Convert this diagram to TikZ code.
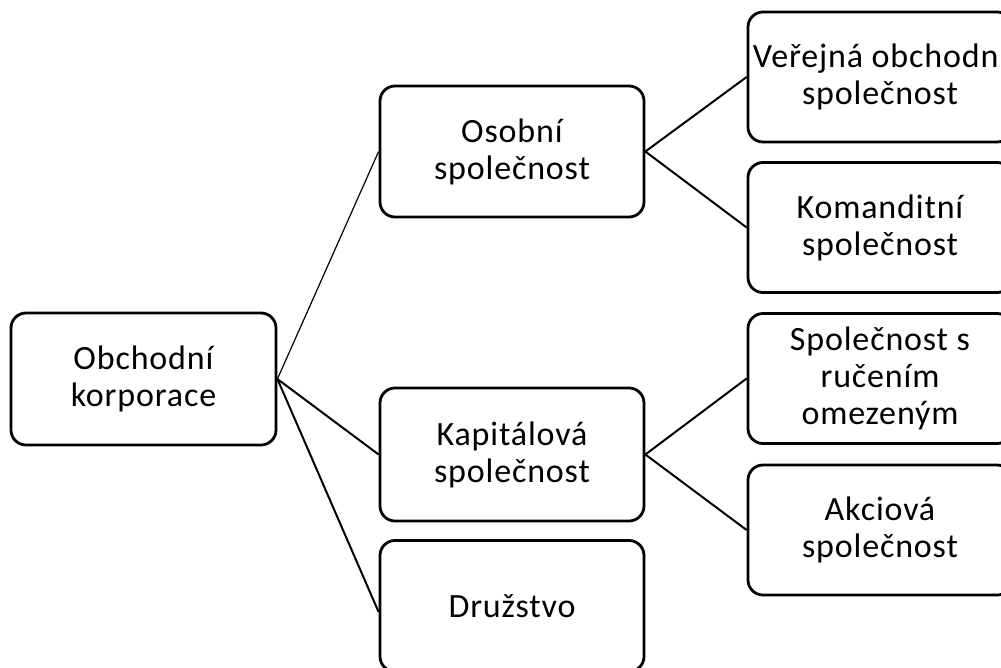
\documentclass[tikz,border=0pt]{standalone}
\usepackage{fontspec}
\setmainfont{Carlito}[LetterSpace=2.5]
\begin{document}
\begin{tikzpicture}[x=1pt,y=-1pt,
  box/.style={draw=black, line width=2.8pt, rounded corners=15pt, fill=white,
    minimum width=264pt, minimum height=131pt, inner sep=0pt, align=center,
    font=\fontsize{34}{37}\selectfont},
  link/.style={draw=black, line width=2pt},
  thinlink/.style={draw=black, line width=1.2pt}]
\clip (0,0) rectangle (1001,667);
\fill[white] (0,0) rectangle (1001,667);

\node[box, minimum width=265pt, minimum height=132pt] (ok) at (143.5,379) {Obchodní\\korporace};
\node[box] (os) at (512,151.5) {Osobní\\společnost};
\node[box, minimum height=133pt] (ka) at (512,454.5) {Kapitálová\\společnost};
\node[box] (dr) at (512,606) {Družstvo};
\node[box, minimum height=130pt] (ve) at (880,77) {Veřejná obchodní\\společnost};
\node[box, minimum height=130pt] (ko) at (880,227.5) {Komanditní\\společnost};
\node[box, minimum height=130pt] (sr) at (880,378.5) {Společnost s\\ručením\\omezeným};
\node[box, minimum height=130pt] (ak) at (880,530) {Akciová\\společnost};

\draw[thinlink] (ok.east) -- (os.west);
\draw[link] (ok.east) -- (ka.west);
\draw[link] (ok.east) -- ([yshift=-6pt]dr.west);
\draw[link] (os.east) -- (ve.west);
\draw[link] (os.east) -- (ko.west);
\draw[link] (ka.east) -- (sr.west);
\draw[link] (ka.east) -- (ak.west);
\end{tikzpicture}
\end{document}
